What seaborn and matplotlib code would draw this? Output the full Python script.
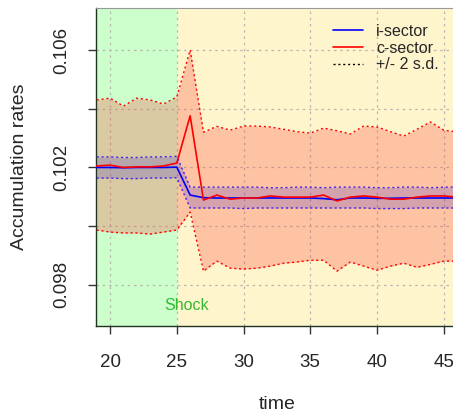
import numpy as np
import pandas as pd
import matplotlib
matplotlib.use("Agg")
import matplotlib.pyplot as plt
import seaborn as sns
from matplotlib.lines import Line2D

# values
time = list(range(19, 47))
c_mean = [0.10205, 0.10208, 0.10200, 0.10202, 0.10202, 0.10205, 0.10215, 0.10376,
          0.10089, 0.10106, 0.10092, 0.10096, 0.10096, 0.10103, 0.10099, 0.10099,
          0.10099, 0.10106, 0.10086, 0.10099, 0.10103, 0.10099, 0.10092, 0.10092,
          0.10099, 0.10103, 0.10103, 0.10099]
c_upper = [0.10430, 0.10436, 0.10409, 0.10436, 0.10430, 0.10416, 0.10440, 0.10600,
           0.10320, 0.10340, 0.10327, 0.10341, 0.10341, 0.10338, 0.10330, 0.10322,
           0.10317, 0.10334, 0.10325, 0.10314, 0.10341, 0.10338, 0.10322, 0.10307,
           0.10330, 0.10355, 0.10327, 0.10321]
c_lower = [0.09987, 0.09980, 0.09977, 0.09977, 0.09973, 0.09980, 0.09987, 0.10048,
           0.09847, 0.09881, 0.09857, 0.09854, 0.09857, 0.09864, 0.09874, 0.09878,
           0.09884, 0.09884, 0.09847, 0.09878, 0.09864, 0.09850, 0.09864, 0.09874,
           0.09860, 0.09870, 0.09881, 0.09881]
i_mean = [0.10200, 0.10200, 0.10199, 0.10200, 0.10200, 0.10200, 0.10201, 0.10106,
          0.10097, 0.10096, 0.10096, 0.10096, 0.10096, 0.10096, 0.10096, 0.10096,
          0.10096, 0.10094, 0.10090, 0.10096, 0.10096, 0.10095, 0.10095, 0.10096,
          0.10096, 0.10096, 0.10096, 0.10096]
i_upper = [0.10236, 0.10236, 0.10234, 0.10234, 0.10236, 0.10236, 0.10238, 0.10133,
           0.10133, 0.10133, 0.10133, 0.10133, 0.10133, 0.10131, 0.10131, 0.10133,
           0.10133, 0.10131, 0.10133, 0.10133, 0.10133, 0.10131, 0.10131, 0.10133,
           0.10133, 0.10131, 0.10133, 0.10133]
i_lower = [0.10164, 0.10164, 0.10162, 0.10162, 0.10164, 0.10164, 0.10165, 0.10062,
           0.10062, 0.10062, 0.10062, 0.10060, 0.10062, 0.10062, 0.10062, 0.10062,
           0.10062, 0.10062, 0.10062, 0.10062, 0.10062, 0.10060, 0.10060, 0.10060,
           0.10062, 0.10062, 0.10062, 0.10062]
shock_time = 25
x_ticks = [20, 25, 30, 35, 40, 45]
y_ticks = [0.098, 0.100, 0.102, 0.104, 0.106]
y_labels = ["0.098", "", "0.102", "", "0.106"]

sns.set_style("white")
plt.rcParams["font.family"] = ["Liberation Sans", "DejaVu Sans"]

df = pd.DataFrame({"time": time, "i-sector": i_mean, "c-sector": c_mean})
long_df = df.melt(id_vars="time", var_name="sector", value_name="rate")

fig = plt.figure(figsize=(4.53, 4.16), dpi=100)
ax = fig.add_axes([0.212, 0.2163, 0.80, 0.7644])

# shaded periods
ax.axvspan(18, shock_time, color="#CCFFCC", lw=0, zorder=0)
ax.axvspan(shock_time, 50, color="#FFF5CC", lw=0, zorder=0)

# grid
for xt in x_ticks:
    ax.axvline(xt, color="#b8b8b0", ls=(0, (2, 3)), lw=0.9, zorder=1)
for yt in y_ticks:
    ax.axhline(yt, color="#b8b8b0", ls=(0, (2, 3)), lw=0.9, zorder=1)

# confidence bands
ax.fill_between(time, c_lower, c_upper, color="#fa5046", alpha=0.3, lw=0, zorder=2)
ax.fill_between(time, i_lower, i_upper, color="#0f00e1", alpha=0.17, lw=0, zorder=3)
for band in (c_upper, c_lower):
    ax.plot(time, band, color="red", ls=(0, (1.5, 2)), lw=1, zorder=4)
for band in (i_upper, i_lower):
    ax.plot(time, band, color="#4422ee", ls=(0, (1.5, 2)), lw=1, zorder=4)

sns.lineplot(data=long_df, x="time", y="rate", hue="sector",
             palette={"i-sector": "blue", "c-sector": "red"},
             lw=1.2, legend=False, ax=ax, zorder=5)

ax.text(shock_time + 0.7, 0.0973, "Shock", color="#33bb33", fontsize=11.5,
        ha="center", va="center", zorder=6)

ax.set_xlim(18.95, 46.1)
ax.set_ylim(0.0966, 0.10743)
ax.set_xticks(x_ticks)
ax.set_yticks(y_ticks)
ax.set_yticklabels(y_labels, rotation=90, va="center")
ax.tick_params(axis="both", which="both", direction="out", length=5.8, width=1,
               color="#333333", labelsize=13.5, left=True, bottom=True)
ax.tick_params(axis="x", pad=14)
ax.tick_params(axis="y", pad=13)
ax.set_xlabel("time", fontsize=14, labelpad=18)
ax.set_ylabel("Accumulation rates", fontsize=14, labelpad=18)

for side in ("left", "bottom"):
    ax.spines[side].set_color("#223322")
    ax.spines[side].set_linewidth(1)
ax.spines["top"].set_color("#999999")
ax.spines["right"].set_visible(False)

handles = [Line2D([], [], color="blue", lw=1.2),
           Line2D([], [], color="red", lw=1.2),
           Line2D([], [], color="black", ls=(0, (1.5, 2)), lw=1)]
ax.legend(handles, ["i-sector", "c-sector", "+/- 2 s.d."], loc="upper right",
          bbox_to_anchor=(0.985, 0.995), frameon=False, fontsize=11.5,
          handlelength=1.9, labelspacing=0.1, handletextpad=0.8)

fig.savefig("out.png", dpi=100)
